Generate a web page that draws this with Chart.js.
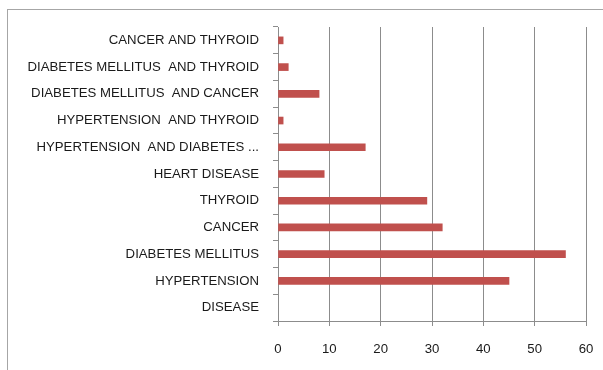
<!DOCTYPE html>
<html>
<head>
<meta charset="utf-8">
<script src="https://cdn.jsdelivr.net/npm/chart.js@4"></script>
<style>
    html, body { margin: 0; padding: 0; background: #fff; overflow: hidden; }
    #wrap { position: relative; width: 603px; height: 370px; }
    #frame {
        position: absolute; left: 7px; top: 9px;
        width: 640px; height: 400px;
        border: 1px solid #a6a6a6;
        box-sizing: border-box;
    }
    canvas { position: absolute; left: 0; top: 0; }
</style>
</head>
<body>
<div id="wrap">
    <div id="frame"></div>
    <canvas id="chart" width="603" height="370"></canvas>
</div>
<script>
// Categorías (de arriba hacia abajo) y número de pacientes
const categories = [
    'CANCER AND THYROID',
    'DIABETES MELLITUS  AND THYROID',
    'DIABETES MELLITUS  AND CANCER',
    'HYPERTENSION  AND THYROID',
    'HYPERTENSION  AND DIABETES ...',
    'HEART DISEASE',
    'THYROID',
    'CANCER',
    'DIABETES MELLITUS',
    'HYPERTENSION',
    'DISEASE'
];
const patients = [1, 2, 8, 1, 17, 9, 29, 32, 56, 45, null];

const xMin = 0;
const xMax = 60;
const xStep = 10;

const barColor = '#c0504d';
const gridColor = '#8c8c8c';
const labelFont = "'Liberation Sans', Arial, sans-serif";

const ctx = document.getElementById('chart').getContext('2d');

new Chart(ctx, {
    type: 'bar',
    data: {
        labels: categories,
        datasets: [{
            data: patients,
            backgroundColor: barColor,
            borderWidth: 0,
            barThickness: 7
        }]
    },
    options: {
        indexAxis: 'y',
        responsive: false,
        animation: false,
        layout: { padding: { top: 27, right: 17, bottom: 0, left: 0 } },
        plugins: {
            legend: { display: false },
            tooltip: { enabled: false }
        },
        scales: {
            x: {
                min: xMin,
                max: xMax,
                ticks: {
                    stepSize: xStep,
                    color: '#1a1a1a',
                    padding: 15,
                    font: { family: labelFont, size: 13.2 }
                },
                grid: {
                    color: gridColor,
                    lineWidth: 1,
                    tickLength: 5,
                    drawTicks: true
                },
                border: { color: gridColor, width: 1 },
                afterFit: (scale) => {
                    scale.height = 49;
                    // sin margen extra por la etiqueta del último tick
                    scale.paddingRight = 0;
                    scale.paddingLeft = 0;
                }
            },
            y: {
                ticks: {
                    color: '#1a1a1a',
                    padding: 14,
                    autoSkip: false,
                    font: { family: labelFont, size: 13.2 }
                },
                grid: {
                    offset: true,
                    drawOnChartArea: false,
                    color: gridColor,
                    tickLength: 5
                },
                border: { color: gridColor, width: 1 },
                afterFit: (scale) => { scale.width = 278; }
            }
        }
    }
});
</script>
</body>
</html>
